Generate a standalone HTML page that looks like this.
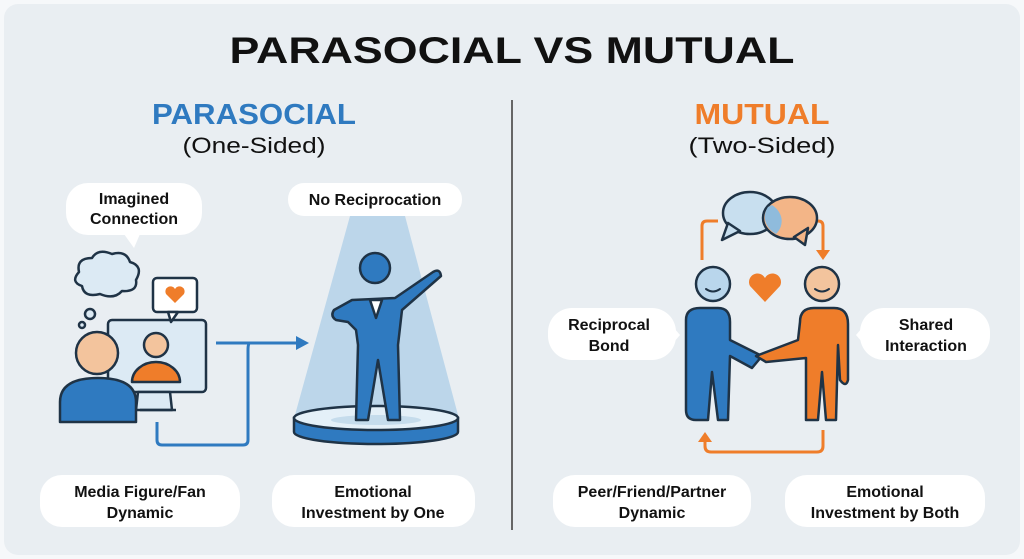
<!DOCTYPE html>
<html><head><meta charset="utf-8"><style>
html,body{margin:0;padding:0;background:#e9eef2;}
svg{display:block;font-family:"Liberation Sans",sans-serif;}
</style></head><body>
<svg width="1024" height="559" viewBox="0 0 1024 559">
<rect x="0" y="0" width="1024" height="559" fill="#f6f8fa"/>
<rect x="4" y="4" width="1016" height="551" rx="14" fill="#e9eef2"/>
<text x="512" y="63" text-anchor="middle" font-size="37" font-weight="bold" fill="#111" textLength="565" lengthAdjust="spacingAndGlyphs">PARASOCIAL VS MUTUAL</text>
<line x1="512" y1="100" x2="512" y2="530" stroke="#666" stroke-width="2"/>
<text x="254" y="124" text-anchor="middle" font-size="29" font-weight="bold" fill="#2f7ac0" textLength="204" lengthAdjust="spacingAndGlyphs">PARASOCIAL</text>
<text x="254" y="153" text-anchor="middle" font-size="22" fill="#111" textLength="143" lengthAdjust="spacingAndGlyphs">(One-Sided)</text>
<text x="762" y="124" text-anchor="middle" font-size="29" font-weight="bold" fill="#ef7d2a" textLength="135" lengthAdjust="spacingAndGlyphs">MUTUAL</text>
<text x="762" y="153" text-anchor="middle" font-size="22" fill="#111" textLength="147" lengthAdjust="spacingAndGlyphs">(Two-Sided)</text>

<g font-size="16" font-weight="bold" fill="#111" text-anchor="middle">
<!-- Imagined connection bubble -->
<rect x="66" y="183" width="136" height="52" rx="22" fill="#fff"/>
<path d="M124,234 L134,248 L140,234 Z" fill="#fff"/>
<text x="134" y="204">Imagined</text><text x="134" y="224">Connection</text>
<rect x="288" y="183" width="174" height="33" rx="16" fill="#fff"/>
<text x="375" y="205">No Reciprocation</text>

<rect x="40" y="475" width="200" height="52" rx="22" fill="#fff"/>
<text x="140" y="497">Media Figure/Fan</text><text x="140" y="518">Dynamic</text>
<rect x="272" y="475" width="203" height="52" rx="22" fill="#fff"/>
<text x="373" y="497">Emotional</text><text x="373" y="518">Investment by One</text>
<rect x="553" y="475" width="198" height="52" rx="22" fill="#fff"/>
<text x="652" y="497">Peer/Friend/Partner</text><text x="652" y="518">Dynamic</text>
<rect x="785" y="475" width="200" height="52" rx="22" fill="#fff"/>
<text x="885" y="497">Emotional</text><text x="885" y="518">Investment by Both</text>

<rect x="548" y="308" width="128" height="52" rx="24" fill="#fff"/>
<path d="M674,328 L680,335 L674,342 Z" fill="#fff"/>
<text x="609" y="330">Reciprocal</text><text x="609" y="351">Bond</text>
<rect x="860" y="308" width="130" height="52" rx="24" fill="#fff"/>
<path d="M862,328 L856,335 L862,342 Z" fill="#fff"/>
<text x="926" y="330">Shared</text><text x="926" y="351">Interaction</text>
</g>

<!-- spotlight -->
<path d="M350,216 L405,216 L458,415 L295,415 Z" fill="#bcd6ea"/>
<!-- platform -->
<path d="M294,418 L294,432 A82,12 0 0 0 458,432 L458,418 Z" fill="#2f7ac0" stroke="#1f3346" stroke-width="2.5"/>
<ellipse cx="376" cy="418" rx="82" ry="12" fill="#e4f0f8" stroke="#1f3346" stroke-width="2.5"/>
<ellipse cx="376" cy="420" rx="45" ry="5" fill="#c5dcec"/>
<!-- star figure -->
<g stroke="#1f3346" stroke-width="2.5" fill="#2f7ac0" stroke-linejoin="round">
<circle cx="375" cy="268" r="15"/>
<path d="M352,300 L395,298 L433,272 Q440,268 441,276 L402,310 L398,345 L400,420 L388,420 L378,360 L368,420 L356,420 L358,345 L356,330 L348,322 L336,320 Q330,316 334,310 Z"/>
<path d="M370,300 L376,318 L382,300 Z" fill="#fff"/>
</g>
<!-- monitor -->
<g stroke="#1f3346" stroke-width="2.5" stroke-linejoin="round">
<rect x="108" y="320" width="98" height="72" rx="4" fill="#dceaf4"/>
<path d="M138,392 L170,392 L172,410 L136,410 Z" fill="#dceaf4"/>
<line x1="140" y1="410" x2="176" y2="410"/>
<circle cx="156" cy="345" r="12" fill="#f3c49d"/>
<path d="M132,382 A24,20 0 0 1 180,382 Z" fill="#ef7d2a"/>
<rect x="153" y="278" width="44" height="34" rx="4" fill="#fff"/>
<path d="M168,312 L171,322 L178,312 Z" fill="#fff"/>
<path d="M175,303 L166,294 A4.5,4.5 0 0 1 175,289 A4.5,4.5 0 0 1 184,294 Z" fill="#ef7d2a" stroke="none"/>
<path d="M79,272 Q76,258 92,258 Q98,248 112,254 Q126,250 130,262 Q144,266 136,280 Q138,292 122,291 Q114,300 100,294 Q84,298 82,286 Q70,282 79,272 Z" fill="#dceaf4"/>
<circle cx="90" cy="314" r="5" fill="#dceaf4"/>
<circle cx="82" cy="325" r="3" fill="#dceaf4"/>
<path d="M60,422 L60,402 Q60,378 98,378 Q136,378 136,402 L136,422 Z" fill="#2f7ac0"/>
<circle cx="97" cy="353" r="21" fill="#f3c49d"/>
</g>
<!-- blue arrow -->
<g stroke="#2f7ac0" stroke-width="3" fill="none">
<path d="M216,343 L300,343"/>
<path d="M250,343 Q248,343 248,350 L248,440 Q248,445 243,445 L162,445 Q157,445 157,440 L157,422"/>
</g>
<path d="M296,336 L309,343 L296,350 Z" fill="#2f7ac0"/>

<!-- mutual -->
<g stroke="#ef7d2a" stroke-width="3" fill="none">
<path d="M702,260 L702,226 Q702,221 707,221 L718,221"/>
<path d="M810,221 L818,221 Q823,221 823,226 L823,252"/>
<path d="M823,430 L823,446 Q823,452 817,452 L711,452 Q705,452 705,446 L705,442"/>
</g>
<path d="M816,250 L823,260 L830,250 Z" fill="#ef7d2a"/>
<path d="M698,442 L705,432 L712,442 Z" fill="#ef7d2a"/>
<g stroke="#1f3346" stroke-width="2.5" stroke-linejoin="round">
<ellipse cx="750" cy="213" rx="27" ry="21" fill="#c8dfef"/>
<path d="M728,223 L722,240 L740,231 Z" fill="#c8dfef"/>
<ellipse cx="790" cy="218" rx="27" ry="21" fill="#f3b587"/>
<path d="M808,228 L805,245 L794,237 Z" fill="#f3b587"/>
<path d="M772,205 A27,21 0 0 1 776,234 A27,21 0 0 1 768,207" fill="#8fbbdc" stroke="none"/>
<circle cx="713" cy="284" r="17" fill="#b9d6ec"/>
<circle cx="822" cy="284" r="17" fill="#f3c49d"/>
<path d="M686,320 Q686,308 700,308 L718,308 Q730,308 730,322 L730,340 L762,356 L752,368 L730,356 L728,420 L718,420 L712,372 L708,420 L696,420 Q686,420 686,410 Z" fill="#2f7ac0"/>
<path d="M800,322 Q800,308 814,308 L834,308 Q848,308 848,324 L848,380 Q846,388 840,380 L838,345 L836,420 L826,420 L822,372 L818,420 L806,420 L806,358 L766,362 L756,356 L798,340 Z" fill="#ef7d2a"/>
</g>
<path d="M765,302 L750,286 A8,8 0 0 1 765,278 A8,8 0 0 1 780,286 Z" fill="#ef7d2a"/>
<g stroke="#1f3346" stroke-width="2" fill="none" stroke-linecap="round">
<path d="M706,289 Q713,294 720,289"/>
<path d="M815,289 Q822,294 829,289"/>
</g>
</svg>
</body></html>
